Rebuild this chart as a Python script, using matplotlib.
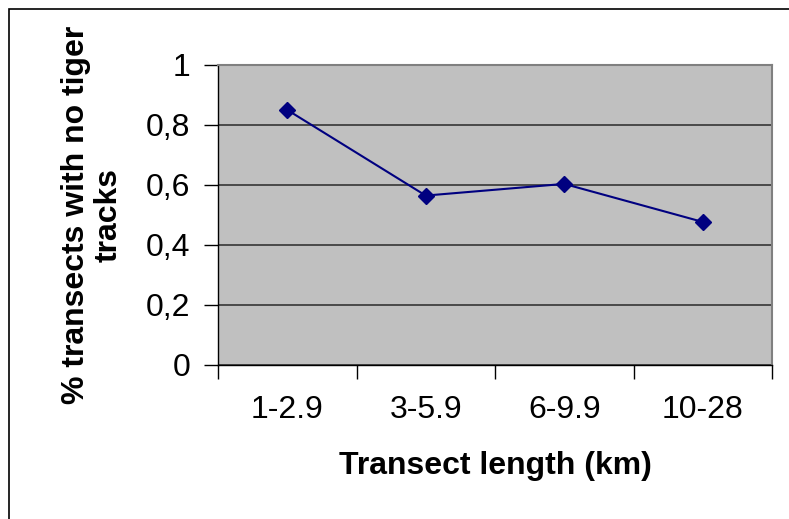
import matplotlib
matplotlib.use("Agg")
import matplotlib.pyplot as plt
from matplotlib.patches import Rectangle

categories = ["1-2.9", "3-5.9", "6-9.9", "10-28"]
values = [0.850, 0.564, 0.603, 0.476]
y_ticks = [0, 0.2, 0.4, 0.6, 0.8, 1.0]
y_tick_labels = ["0", "0,2", "0,4", "0,6", "0,8", "1"]

plt.rcParams['font.family'] = ['Liberation Sans', 'DejaVu Sans']

W, H = 789, 519
fig = plt.figure(figsize=(W / 100, H / 100), dpi=100)
fig.patch.set_facecolor("white")

# outer chart border (top and left visible)
fig.patches.append(Rectangle((9 / W, -0.1), 1.2, 1 - 9 / H + 0.1, transform=fig.transFigure,
                             fill=False, edgecolor="black", linewidth=1.2))

left, right, top, bottom = 218, 772, 65, 364.5
ax = fig.add_axes([left / W, 1 - bottom / H, (right - left) / W, (bottom - top) / H])
ax.set_facecolor("#c0c0c0")

x = list(range(len(categories)))
ax.plot(x, values, color="#000080", linewidth=1.5, marker="D", markersize=8,
        markerfacecolor="#000080", markeredgecolor="#000080", zorder=3)

ax.set_xlim(-0.5, len(categories) - 0.5)
ax.set_ylim(0, 1)
ax.set_yticks(y_ticks)
ax.set_yticklabels(y_tick_labels)
ax.yaxis.grid(True, color="#404040", linewidth=1.3)
ax.set_axisbelow(True)

ax.set_xticks([i - 0.5 for i in range(len(categories) + 1)])
ax.set_xticklabels([])
ax.set_xticks(x, minor=True)
ax.set_xticklabels(categories, minor=True)
ax.tick_params(axis="x", which="minor", length=0, pad=22, labelsize=23)
ax.tick_params(axis="x", which="major", length=10, width=1, color="black", direction="out")
ax.tick_params(axis="y", length=10, width=1, color="black", direction="out", pad=10, labelsize=23)

for s in ["left", "bottom"]:
    ax.spines[s].set_color("black")
    ax.spines[s].set_linewidth(1)
for s in ["top", "right"]:
    ax.spines[s].set_color("#808080")
    ax.spines[s].set_linewidth(1.5)

fig.text((left + right) / 2 / W, 1 - 466 / H, "Transect length (km)", ha="center", va="center",
         fontsize=23, fontweight="bold")
fig.text(92 / W, 1 - (top + bottom) / 2 / H, "% transects with no tiger\ntracks", ha="center",
         va="center", rotation=90, fontsize=23, fontweight="bold", linespacing=1.1)

fig.savefig("out.png", dpi=100)
